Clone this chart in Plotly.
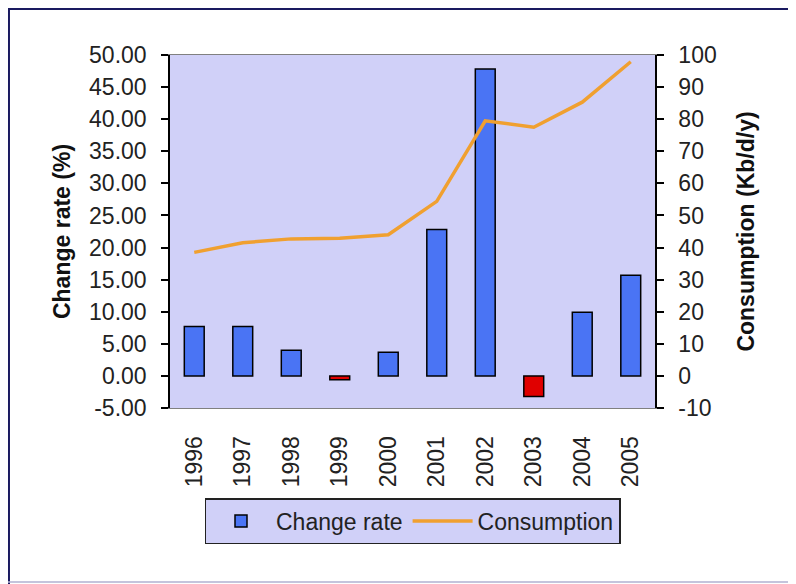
import plotly.graph_objects as go

years = ["1996", "1997", "1998", "1999", "2000", "2001", "2002", "2003", "2004", "2005"]
change_rate = [7.7, 7.7, 4.0, -0.6, 3.7, 22.8, 47.8, -3.2, 9.9, 15.7]
consumption = [38.5, 41.5, 42.7, 42.9, 44.0, 54.4, 79.5, 77.5, 85.3, 97.9]

Y1_RANGE = [-5, 50]
Y2_RANGE = [-10, 100]
y1_ticks = list(range(-5, 51, 5))
y2_ticks = list(range(-10, 101, 10))
FONT = "Liberation Sans, Arial, sans-serif"

bar_colors = ["#4a74f4" if v >= 0 else "#e00000" for v in change_rate]
zero_pos = -Y1_RANGE[0] / (Y1_RANGE[1] - Y1_RANGE[0])
boundaries = [i + 0.5 for i in range(len(years) - 1)]

fig = go.Figure()
fig.add_trace(
    go.Bar(
        x=years,
        y=change_rate,
        name="Change rate",
        marker=dict(color=bar_colors, line=dict(color="#000000", width=1.5)),
        width=0.41,
    )
)
fig.add_trace(
    go.Scatter(
        x=years,
        y=consumption,
        name="Consumption",
        mode="lines",
        line=dict(color="#f0a030", width=3.5),
        yaxis="y2",
    )
)

tick_font = dict(family=FONT, size=23, color="#222222")
title_font = dict(family=FONT, size=23, color="#111111")

# the page body adds an 8px offset, so the figure is 8px smaller than the window
fig.update_layout(
    width=788,
    height=576,
    margin=dict(l=162, r=141, t=47, b=176),
    paper_bgcolor="#ffffff",
    plot_bgcolor="#d0d0f8",
    font=dict(family=FONT, size=23, color="#222222"),
    bargap=0.59,
    xaxis=dict(
        type="category",
        range=[-0.5, len(years) - 0.5],
        tickangle=-90,
        tickfont=tick_font,
        ticks="",
        showline=True,
        mirror=True,
        linecolor="#808080",
        linewidth=1,
        showgrid=False,
        ticklabelstandoff=18,
    ),
    xaxis2=dict(
        overlaying="x",
        anchor="free",
        position=zero_pos,
        range=[-0.5, len(years) - 0.5],
        tickvals=boundaries,
        showticklabels=False,
        ticks="outside",
        ticklen=7,
        tickwidth=1.5,
        tickcolor="#000000",
        showline=True,
        linecolor="#000000",
        linewidth=1.5,
        showgrid=False,
        zeroline=False,
    ),
    xaxis3=dict(
        overlaying="x",
        anchor="free",
        position=zero_pos,
        range=[-0.5, len(years) - 0.5],
        tickvals=boundaries,
        showticklabels=False,
        ticks="inside",
        ticklen=7,
        tickwidth=1.5,
        tickcolor="#000000",
        showline=False,
        showgrid=False,
        zeroline=False,
    ),
    yaxis=dict(
        range=Y1_RANGE,
        tickvals=y1_ticks,
        ticktext=[f"{v:.2f}" for v in y1_ticks],
        tickfont=tick_font,
        ticks="outside",
        ticklen=7,
        tickwidth=1.5,
        tickcolor="#000000",
        showline=True,
        linecolor="#000000",
        linewidth=1.5,
        showgrid=False,
        zeroline=False,
        title=dict(text="<b>Change rate (%)</b>", font=title_font, standoff=12),
        ticklabelstandoff=10,
    ),
    yaxis2=dict(
        range=Y2_RANGE,
        tickvals=y2_ticks,
        ticktext=[str(v) for v in y2_ticks],
        overlaying="y",
        side="right",
        tickfont=tick_font,
        ticks="outside",
        ticklen=7,
        tickwidth=1.5,
        tickcolor="#000000",
        showline=True,
        linecolor="#000000",
        linewidth=1.5,
        showgrid=False,
        zeroline=False,
        title=dict(text="<b>Consumption (Kb/d/y)</b>", font=title_font, standoff=22),
        ticklabelstandoff=10,
    ),
    yaxis3=dict(
        range=Y1_RANGE,
        tickvals=y1_ticks,
        overlaying="y",
        side="left",
        showticklabels=False,
        ticks="inside",
        ticklen=7,
        tickwidth=1.5,
        tickcolor="#000000",
        showgrid=False,
        zeroline=False,
    ),
    yaxis4=dict(
        range=Y2_RANGE,
        tickvals=y2_ticks,
        overlaying="y",
        side="right",
        showticklabels=False,
        ticks="inside",
        ticklen=7,
        tickwidth=1.5,
        tickcolor="#000000",
        showgrid=False,
        zeroline=False,
    ),
    legend=dict(
        orientation="h",
        x=0.5,
        xanchor="center",
        y=-0.255,
        yanchor="top",
        bgcolor="#d0d0f8",
        bordercolor="#222222",
        borderwidth=1.5,
        font=dict(family=FONT, size=23, color="#222222"),
        itemwidth=60,
    ),
    showlegend=True,
)

# outer frame of the chart area
fig.add_shape(type="line", xref="paper", yref="paper", x0=-0.334, x1=1.3, y0=1.13, y1=1.13,
              line=dict(color="#1a1a60", width=2))
fig.add_shape(type="line", xref="paper", yref="paper", x0=-0.332, x1=-0.332, y0=1.13, y1=-0.5,
              line=dict(color="#1a1a60", width=2))
fig.add_shape(type="line", xref="paper", yref="paper", x0=-0.334, x1=1.3, y0=-0.493, y1=-0.493,
              line=dict(color="#b0b0d0", width=1.5))
fig.add_shape(type="line", xref="paper", yref="paper", x0=1.278, x1=1.278, y0=1.13, y1=-0.5,
              line=dict(color="#c8c8d8", width=1.5))

fig.write_html("out.html")
